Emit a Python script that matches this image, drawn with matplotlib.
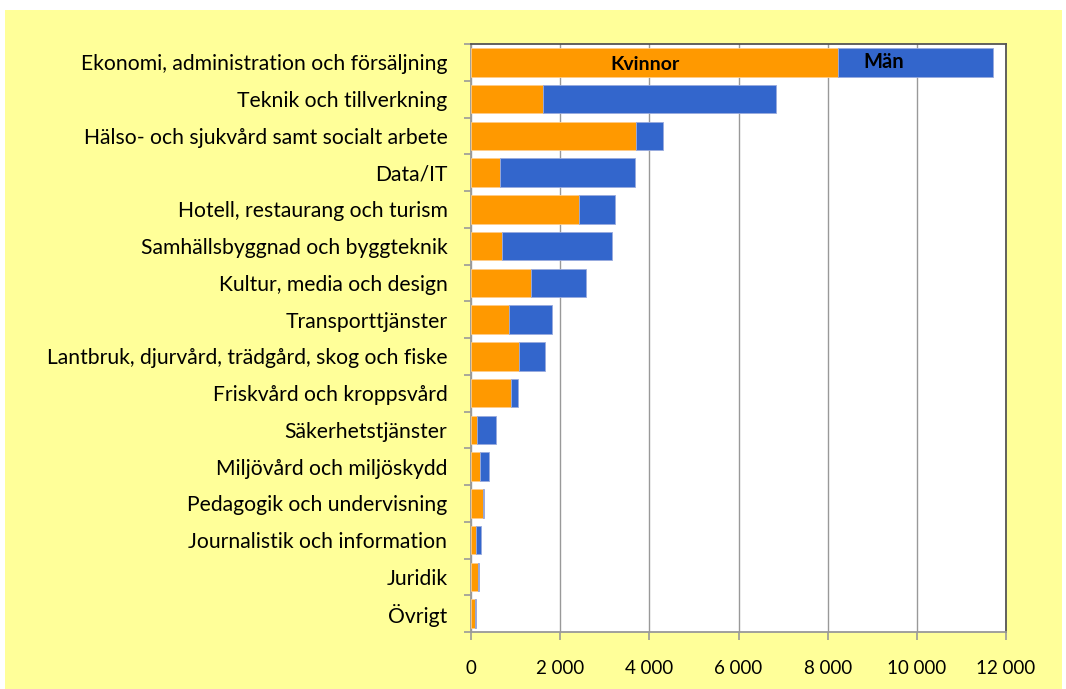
import matplotlib.pyplot as plt
from matplotlib.patches import Rectangle
import numpy as np

categories = [
    "Ekonomi, administration och försäljning",
    "Teknik och tillverkning",
    "Hälso- och sjukvård samt socialt arbete",
    "Data/IT",
    "Hotell, restaurang och turism",
    "Samhällsbyggnad och byggteknik",
    "Kultur, media och design",
    "Transporttjänster",
    "Lantbruk, djurvård, trädgård, skog och fiske",
    "Friskvård och kroppsvård",
    "Säkerhetstjänster",
    "Miljövård och miljöskydd",
    "Pedagogik och undervisning",
    "Journalistik och information",
    "Juridik",
    "Övrigt",
]
kvinnor = [8230, 1615, 3700, 650, 2420, 700, 1350, 850, 1080, 900, 140, 200, 270, 120, 165, 95]
man = [3480, 5225, 610, 3030, 810, 2460, 1230, 970, 580, 150, 410, 210, 15, 95, 20, 15]
xticks = [0, 2000, 4000, 6000, 8000, 10000, 12000]
xticklabels = ["0", "2 000", "4 000", "6 000", "8 000", "10 000", "12 000"]

plt.rcParams['font.family'] = ['Lato', 'DejaVu Sans']

fig = plt.figure(figsize=(10.66, 6.89), dpi=100, facecolor='white')
fig.patches.append(Rectangle((5 / 1066, 0), 1057 / 1066, 679 / 689,
                             transform=fig.transFigure, facecolor='#ffff99',
                             edgecolor='none', zorder=-10))
ax = fig.add_axes([471 / 1066, 1 - 632 / 689, 535 / 1066, 588 / 689])
ax.set_facecolor('white')

y = np.arange(len(categories))
ax.barh(y, kvinnor, height=0.78, color='#ff9900', edgecolor='#ffcc88', linewidth=0.6, zorder=3)
ax.barh(y, man, left=kvinnor, height=0.78, color='#3366cc', edgecolor='#99aadd', linewidth=0.6, zorder=3)

ax.set_ylim(len(categories) - 0.5, -0.5)
ax.set_xlim(0, 12000)
ax.set_yticks(y, labels=categories, fontsize=15.2)
ax.set_yticks(np.arange(-0.5, len(categories), 1), minor=True)
ax.tick_params(axis='y', which='major', length=0, pad=17)
ax.tick_params(axis='y', which='minor', length=5, color='#999999', width=1.2)
ax.set_xticks(xticks, labels=xticklabels, fontsize=13.5)
ax.tick_params(axis='x', length=6, color='#999999', width=1.2, pad=14)
ax.grid(axis='x', color='#999999', linewidth=1, zorder=1)

ax.spines['left'].set_color('#999999')
ax.spines['bottom'].set_color('#999999')
ax.spines['top'].set_color('#555555')
ax.spines['right'].set_color('#555555')
for s in ax.spines.values():
    s.set_linewidth(1.3)

ax.text(3900, 0.06, "Kvinnor", ha='center', va='center', fontsize=14, fontweight='bold', zorder=4)
ax.text(9265, -0.02, "Män", ha='center', va='center', fontsize=14.5, fontweight='bold', zorder=4)

fig.savefig('out.png', dpi=100, facecolor=fig.get_facecolor())
